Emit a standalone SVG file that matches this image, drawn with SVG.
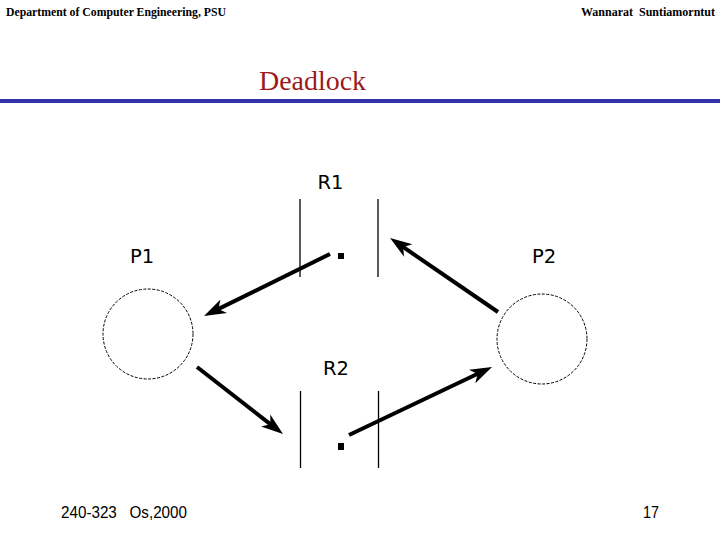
<svg xmlns="http://www.w3.org/2000/svg" width="720" height="540" viewBox="0 0 720 540">
<style>
.hdr{font-family:"Liberation Serif","Times New Roman",serif;font-weight:bold;font-size:13px;fill:#000;white-space:pre}
.title{font-family:"Liberation Serif","Times New Roman",serif;font-size:28px;fill:#9B1B1B}
.lbl{font-family:"DejaVu Sans",Verdana,sans-serif;font-size:19.5px;fill:#000}
.ftr{font-family:"Liberation Sans",Arial,sans-serif;font-size:17px;fill:#000;white-space:pre}
.bar{stroke:#000;stroke-width:1.3}
.proc{fill:none;stroke:#000;stroke-width:1;stroke-dasharray:3,1.5}
.edge{stroke:#000;stroke-width:4;fill:none;marker-end:url(#arr)}
</style>
<defs>
<marker id="arr" markerUnits="userSpaceOnUse" viewBox="0 0 22 18" markerWidth="22" markerHeight="18" refX="12" refY="9" orient="auto">
<path d="M22,9 L0,1.5 L6,9 L0,16.5 z" fill="#000"/>
</marker>
</defs>
<rect width="720" height="540" fill="#fff"/>
<text class="hdr" x="6" y="16" textLength="220" lengthAdjust="spacingAndGlyphs">Department of Computer Engineering, PSU</text>
<text class="hdr" x="715" y="16" text-anchor="end" style="font-size:12px" xml:space="preserve">Wannarat  Suntiamorntut</text>
<text class="title" x="259" y="90" textLength="107" lengthAdjust="spacingAndGlyphs">Deadlock</text>
<rect x="0" y="99" width="720" height="4" fill="#3333AA"/>
<g id="R1">
<text class="lbl" x="330.5" y="189" text-anchor="middle">R1</text>
<line class="bar" x1="300" y1="199" x2="300" y2="277"/>
<line class="bar" x1="378" y1="199" x2="378" y2="277"/>
<rect x="338" y="253" width="6" height="6" fill="#000"/>
</g>
<g id="R2">
<text class="lbl" x="336" y="375" text-anchor="middle">R2</text>
<line class="bar" x1="300.5" y1="391" x2="300.5" y2="468"/>
<line class="bar" x1="378.5" y1="391" x2="378.5" y2="468"/>
<rect x="338" y="443" width="6" height="7" fill="#000"/>
</g>
<g id="P1">
<text class="lbl" x="142" y="263" text-anchor="middle">P1</text>
<circle class="proc" cx="148" cy="334" r="45"/>
</g>
<g id="P2">
<text class="lbl" x="544" y="263" text-anchor="middle">P2</text>
<circle class="proc" cx="542" cy="339" r="45"/>
</g>
<g id="connectors">
<line class="edge" x1="330" y1="254" x2="213" y2="311.6"/>
<line class="edge" x1="498" y1="312" x2="398.3" y2="243.7"/>
<line class="edge" x1="197" y1="367" x2="275.1" y2="427.9"/>
<line class="edge" x1="349" y1="435" x2="483" y2="371.3"/>
</g>
<text class="ftr" x="61" y="518" textLength="126" lengthAdjust="spacingAndGlyphs" xml:space="preserve">240-323   Os,2000</text>
<text class="ftr" x="643" y="518" textLength="16" lengthAdjust="spacingAndGlyphs">17</text>
</svg>
